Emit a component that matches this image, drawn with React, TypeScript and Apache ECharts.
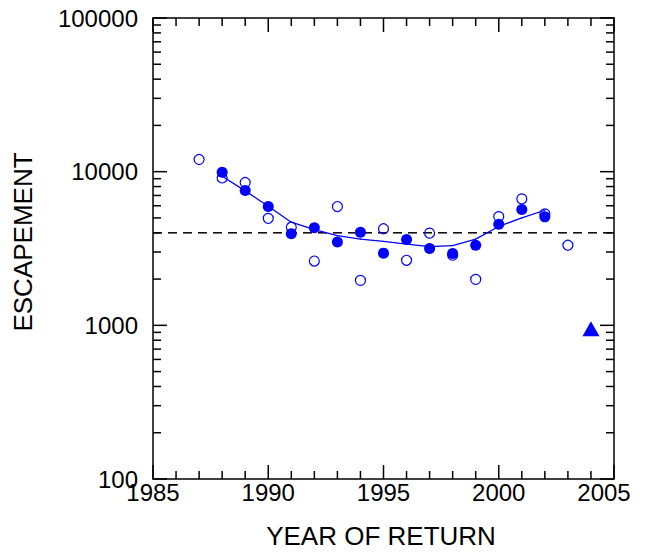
import React, { useEffect, useRef } from "react";
import * as echarts from "echarts";

const openYears = [1987, 1988, 1989, 1990, 1991, 1992, 1993, 1994, 1995, 1996, 1997, 1998, 1999, 2000, 2001, 2002, 2003];
const openValues = [12000, 9100, 8500, 4970, 4350, 2620, 5930, 1960, 4250, 2650, 3980, 2860, 1990, 5100, 6650, 5310, 3320];

const filledYears = [1988, 1989, 1990, 1991, 1992, 1993, 1994, 1995, 1996, 1997, 1998, 1999, 2000, 2001, 2002];
const filledValues = [9900, 7530, 5930, 3940, 4310, 3490, 4040, 2950, 3620, 3160, 2930, 3320, 4550, 5670, 5080];

const smoothYears = [1988, 1989, 1990, 1991, 1992, 1993, 1994, 1995, 1996, 1997, 1998, 1999, 2000, 2001, 2002];
const smoothValues = [9330, 7500, 5960, 4690, 4200, 3830, 3640, 3520, 3380, 3250, 3300, 3640, 4400, 5000, 5610];

const triangleYears = [2004];
const triangleValues = [950];

const goalValue = 4000;

const xMin = 1985;
const xMax = 2005;
const xTickLabels = ["1985", "1990", "1995", "2000", "2005"];
const xTickYears = [1985, 1986, 1987, 1988, 1989, 1990, 1991, 1992, 1993, 1994, 1995, 1996, 1997, 1998, 1999, 2000, 2001, 2002, 2003, 2004, 2005];
const xMajorYears = [1985, 1990, 1995, 2000, 2005];
const yMin = 100;
const yMax = 100000;
const yMajorValues = [100, 1000, 10000, 100000];
const yMinorMultipliers = [2, 3, 4, 5, 6, 7, 8, 9];

const BLUE = "#0000ff";
const FONT = "Liberation Sans";
const MAJOR = 14;
const MINOR = 8;
const TICK_W = 1.5;
const DASH = 9;
const GAP = 6;

export default function App() {
  const ref = useRef<HTMLDivElement>(null);

  useEffect(() => {
    if (!ref.current) return;
    const chart = echarts.init(ref.current, null, { renderer: "svg" });

    const yTickValues: number[] = [];
    yMajorValues.forEach((d) => {
      yTickValues.push(d);
      if (d < yMax) yMinorMultipliers.forEach((m) => yTickValues.push(d * m));
    });

    const tickItems: any[] = [];
    yTickValues.forEach((v) => {
      const len = yMajorValues.indexOf(v) >= 0 ? MAJOR : MINOR;
      tickItems.push({ value: [xMin, v], symbolSize: [len, TICK_W], symbolOffset: [len / 2, 0] });
      tickItems.push({ value: [xMax, v], symbolSize: [len, TICK_W], symbolOffset: [-len / 2, 0] });
    });
    xTickYears.forEach((yr) => {
      const len = xMajorYears.indexOf(yr) >= 0 ? MAJOR : MINOR;
      tickItems.push({ value: [yr, yMin], symbolSize: [TICK_W, len], symbolOffset: [0, -len / 2] });
      tickItems.push({ value: [yr, yMax], symbolSize: [TICK_W, len], symbolOffset: [0, len / 2] });
    });

    chart.setOption({
      animation: false,
      grid: { left: 153, top: 18, width: 461, height: 461 },
      xAxis: [
        {
          type: "value",
          min: xMin,
          max: xMax,
          interval: 5,
          position: "bottom",
          axisLine: { show: true, onZero: false, lineStyle: { color: "#000", width: 1.5 } },
          axisTick: { show: false },
          splitLine: { show: false },
          axisLabel: {
            show: true,
            color: "#000",
            fontSize: 24,
            fontFamily: FONT,
            margin: 1,
            formatter: (v: number) => {
              const s = String(Math.round(v));
              return s === xTickLabels[xTickLabels.length - 1] ? "{last|" + s + "}" : s;
            },
            rich: { last: { fontSize: 24, fontFamily: FONT, color: "#000", padding: [0, 20, 0, 0] } },
          },
        },
        {
          type: "value",
          min: xMin,
          max: xMax,
          interval: 5,
          position: "top",
          axisLine: { show: true, onZero: false, lineStyle: { color: "#000", width: 1.5 } },
          axisTick: { show: false },
          splitLine: { show: false },
          axisLabel: { show: false },
        },
      ],
      yAxis: [
        {
          type: "log",
          min: yMin,
          max: yMax,
          position: "left",
          axisLine: { show: true, onZero: false, lineStyle: { color: "#000", width: 1.5 } },
          axisTick: { show: false },
          splitLine: { show: false },
          axisLabel: {
            show: true,
            color: "#000",
            fontSize: 24,
            fontFamily: FONT,
            margin: 15,
            formatter: (v: number) => String(Math.round(v)),
          },
        },
        {
          type: "log",
          min: yMin,
          max: yMax,
          position: "right",
          axisLine: { show: true, onZero: false, lineStyle: { color: "#000", width: 1.5 } },
          axisTick: { show: false },
          splitLine: { show: false },
          axisLabel: { show: false },
        },
      ],
      series: [
        {
          type: "scatter",
          name: "ticks",
          data: tickItems,
          symbol: "rect",
          clip: false,
          silent: true,
          itemStyle: { color: "#000", opacity: 1 },
          z: 1,
        },
        {
          type: "custom",
          data: [[xMin, goalValue]],
          renderItem: (params: any, api: any) => {
            const a = api.coord([xMin, api.value(1)]);
            const b = api.coord([xMax, api.value(1)]);
            const children: any[] = [];
            for (let x = a[0]; x < b[0]; x += DASH + GAP) {
              children.push({
                type: "line",
                shape: { x1: x, y1: a[1], x2: Math.min(x + DASH, b[0]), y2: a[1] },
                style: { stroke: "#000", lineWidth: 1.5 },
              });
            }
            return { type: "group", children };
          },
          z: 2,
        },
        {
          type: "custom",
          data: smoothYears.map((y, i) => [y, smoothValues[i]]),
          renderItem: (params: any, api: any) => {
            const i = params.dataIndex;
            if (i >= smoothYears.length - 1) return { type: "group", children: [] };
            const p = api.coord([api.value(0), api.value(1)]);
            const q = api.coord([smoothYears[i + 1], smoothValues[i + 1]]);
            return {
              type: "line",
              shape: { x1: p[0], y1: p[1], x2: q[0], y2: q[1] },
              style: { stroke: BLUE, lineWidth: 1.3, lineCap: "round" },
            };
          },
          z: 2,
        },
        {
          type: "scatter",
          data: openYears.map((y, i) => [y, openValues[i]]),
          symbol: "circle",
          symbolSize: 10,
          itemStyle: { color: "rgba(255,255,255,0)", opacity: 1, borderColor: BLUE, borderWidth: 1.2 },
          z: 3,
        },
        {
          type: "scatter",
          data: filledYears.map((y, i) => [y, filledValues[i]]),
          symbol: "circle",
          symbolSize: 11,
          itemStyle: { color: BLUE, opacity: 1 },
          z: 4,
        },
        {
          type: "scatter",
          data: triangleYears.map((y, i) => [y, triangleValues[i]]),
          symbol: "triangle",
          symbolSize: [17, 15],
          itemStyle: { color: BLUE, opacity: 1 },
          z: 4,
        },
      ],
    });

    chart.setOption({
      graphic: [
        {
          type: "text",
          x: 23,
          y: 242,
          rotation: Math.PI / 2,
          style: { text: "ESCAPEMENT", fontSize: 26, fontFamily: FONT, fill: "#000", align: "center", verticalAlign: "middle" },
        },
        {
          type: "text",
          x: 381,
          y: 536,
          style: { text: "YEAR OF RETURN", fontSize: 26, fontFamily: FONT, fill: "#000", align: "center", verticalAlign: "middle" },
        },
      ],
    });

    return () => chart.dispose();
  }, []);

  return <div ref={ref} style={{ position: "fixed", left: 0, top: 0, width: 650, height: 555, background: "#fff" }} />;
}
